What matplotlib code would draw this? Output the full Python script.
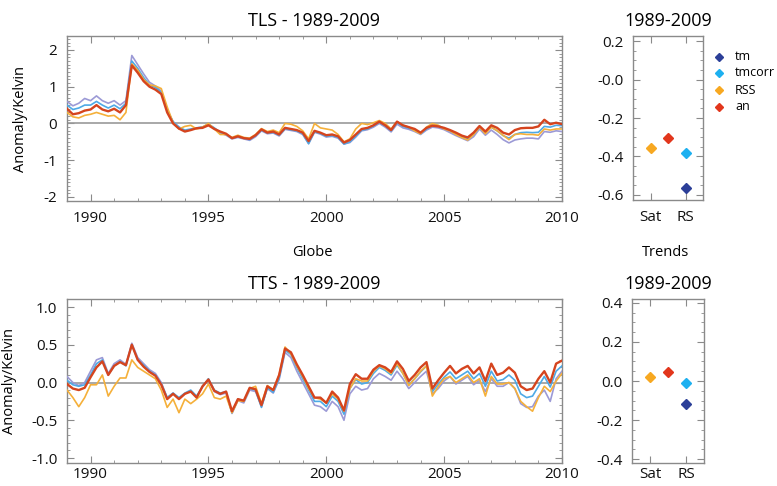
import numpy as np
import matplotlib
matplotlib.use("Agg")
import matplotlib.pyplot as plt
from matplotlib.ticker import MultipleLocator, FixedLocator, FixedFormatter

plt.rcParams['font.family'] = ['Open Sans', 'DejaVu Sans']

# ---------------- data ----------------
years = 1989 + 0.25 * np.arange(85)

tls_an = [0.40, 0.25, 0.28, 0.35, 0.38, 0.50, 0.38, 0.33, 0.40, 0.30, 0.50, 1.58,
          1.38, 1.15, 1.00, 0.92, 0.80, 0.30, 0.00, -0.14, -0.22, -0.18, -0.13, -0.12,
          -0.05, -0.15, -0.22, -0.28, -0.40, -0.35, -0.40, -0.42, -0.32, -0.16, -0.25, -0.22,
          -0.30, -0.12, -0.15, -0.18, -0.25, -0.48, -0.20, -0.25, -0.32, -0.30, -0.35, -0.52,
          -0.45, -0.30, -0.15, -0.12, -0.05, 0.05, -0.05, -0.18, 0.05, -0.05, -0.10, -0.15,
          -0.25, -0.12, -0.06, -0.08, -0.12, -0.18, -0.25, -0.33, -0.38, -0.25, -0.07, -0.22,
          -0.05, -0.12, -0.25, -0.30, -0.18, -0.13, -0.12, -0.12, -0.08, 0.10, -0.02, 0.02, -0.02]
tls_rss = [0.30, 0.18, 0.15, 0.22, 0.25, 0.30, 0.25, 0.20, 0.22, 0.10, 0.30, 1.62,
           1.45, 1.20, 1.05, 1.02, 0.95, 0.45, 0.02, -0.15, -0.08, -0.05, -0.15, -0.10,
           0.00, -0.15, -0.30, -0.30, -0.38, -0.32, -0.38, -0.40, -0.30, -0.14, -0.22, -0.18,
           -0.25, 0.00, -0.02, -0.08, -0.20, -0.42, 0.00, -0.12, -0.15, -0.18, -0.30, -0.50,
           -0.42, -0.15, 0.00, -0.03, 0.02, 0.08, 0.00, -0.15, 0.05, -0.05, -0.10, -0.20,
           -0.28, -0.10, 0.00, -0.05, -0.15, -0.20, -0.30, -0.38, -0.45, -0.30, -0.10, -0.28,
           -0.10, -0.20, -0.32, -0.44, -0.30, -0.28, -0.30, -0.30, -0.32, -0.15, -0.18, -0.15, -0.15]
tls_tmcorr = [0.50, 0.38, 0.42, 0.50, 0.50, 0.60, 0.50, 0.42, 0.50, 0.40, 0.55, 1.70,
              1.50, 1.25, 1.05, 0.98, 0.85, 0.35, 0.05, -0.10, -0.18, -0.15, -0.12, -0.10,
              -0.02, -0.12, -0.24, -0.30, -0.40, -0.36, -0.40, -0.44, -0.33, -0.18, -0.26, -0.24,
              -0.32, -0.14, -0.17, -0.20, -0.28, -0.55, -0.22, -0.27, -0.35, -0.33, -0.38, -0.56,
              -0.50, -0.35, -0.18, -0.15, -0.07, 0.03, -0.07, -0.20, 0.02, -0.08, -0.13, -0.18,
              -0.28, -0.15, -0.05, -0.06, -0.14, -0.20, -0.28, -0.35, -0.42, -0.30, -0.10, -0.25,
              -0.10, -0.20, -0.33, -0.40, -0.30, -0.25, -0.24, -0.25, -0.24, -0.08, -0.10, -0.05, -0.06]
tls_tm = [0.60, 0.48, 0.55, 0.68, 0.62, 0.75, 0.62, 0.55, 0.62, 0.50, 0.62, 1.85,
          1.60, 1.35, 1.12, 1.02, 0.88, 0.38, 0.05, -0.10, -0.20, -0.17, -0.12, -0.10,
          -0.02, -0.13, -0.26, -0.32, -0.42, -0.38, -0.42, -0.46, -0.36, -0.20, -0.28, -0.26,
          -0.34, -0.16, -0.19, -0.22, -0.30, -0.55, -0.24, -0.29, -0.37, -0.35, -0.40, -0.56,
          -0.52, -0.37, -0.20, -0.17, -0.10, 0.00, -0.10, -0.23, -0.02, -0.12, -0.16, -0.22,
          -0.30, -0.18, -0.10, -0.12, -0.17, -0.25, -0.33, -0.40, -0.47, -0.36, -0.15, -0.32,
          -0.18, -0.30, -0.44, -0.53, -0.45, -0.42, -0.40, -0.40, -0.42, -0.22, -0.24, -0.20, -0.22]

tts_an = [-0.02, -0.08, -0.10, -0.07, 0.07, 0.20, 0.28, 0.10, 0.22, 0.27, 0.23, 0.50,
          0.30, 0.21, 0.14, 0.09, -0.03, -0.22, -0.15, -0.22, -0.15, -0.12, -0.20, -0.05,
          0.04, -0.11, -0.15, -0.12, -0.38, -0.22, -0.24, -0.07, -0.09, -0.30, -0.05, -0.10,
          0.10, 0.45, 0.40, 0.24, 0.10, -0.05, -0.20, -0.20, -0.27, -0.12, -0.20, -0.37,
          -0.02, 0.11, 0.05, 0.05, 0.17, 0.23, 0.20, 0.14, 0.28, 0.18, 0.02, 0.10,
          0.20, 0.27, -0.08, 0.03, 0.13, 0.22, 0.12, 0.18, 0.22, 0.12, 0.20, 0.02,
          0.25, 0.10, 0.13, 0.20, 0.13, -0.05, -0.10, -0.08, 0.05, 0.15, 0.00, 0.25, 0.29]
tts_rss = [-0.10, -0.20, -0.32, -0.20, -0.03, -0.03, 0.10, -0.18, -0.05, 0.06, 0.06, 0.30,
           0.20, 0.15, 0.10, 0.05, -0.10, -0.33, -0.22, -0.40, -0.22, -0.28, -0.22, -0.15,
           -0.02, -0.20, -0.22, -0.18, -0.40, -0.24, -0.25, -0.08, -0.05, -0.28, -0.04, -0.10,
           0.10, 0.47, 0.38, 0.22, 0.08, -0.08, -0.20, -0.22, -0.27, -0.15, -0.22, -0.38,
           -0.08, 0.05, 0.02, 0.02, 0.15, 0.22, 0.18, 0.12, 0.25, 0.12, -0.04, 0.05,
           0.15, 0.22, -0.18, -0.05, 0.05, 0.08, 0.00, 0.05, 0.10, 0.00, 0.05, -0.18,
           0.08, -0.02, -0.02, 0.00, -0.08, -0.25, -0.32, -0.38, -0.20, -0.05, -0.12, 0.02, 0.12]
tts_tmcorr = [0.03, -0.03, -0.05, -0.03, 0.10, 0.25, 0.30, 0.10, 0.22, 0.28, 0.22, 0.50,
              0.30, 0.23, 0.15, 0.10, -0.02, -0.20, -0.14, -0.20, -0.14, -0.10, -0.18, -0.05,
              0.05, -0.10, -0.14, -0.12, -0.40, -0.22, -0.25, -0.08, -0.10, -0.33, -0.07, -0.13,
              0.06, 0.43, 0.37, 0.20, 0.05, -0.10, -0.25, -0.25, -0.32, -0.18, -0.25, -0.42,
              -0.08, 0.04, -0.02, 0.00, 0.12, 0.20, 0.16, 0.10, 0.23, 0.12, -0.03, 0.05,
              0.14, 0.22, -0.12, -0.02, 0.07, 0.14, 0.05, 0.10, 0.15, 0.05, 0.12, -0.05,
              0.15, 0.02, 0.04, 0.10, 0.03, -0.15, -0.20, -0.18, -0.05, 0.08, -0.06, 0.15, 0.22]
tts_tm = [0.08, 0.00, -0.04, 0.00, 0.15, 0.30, 0.33, 0.12, 0.25, 0.30, 0.24, 0.52,
          0.33, 0.25, 0.17, 0.12, 0.00, -0.20, -0.14, -0.21, -0.15, -0.11, -0.19, -0.06,
          0.04, -0.12, -0.16, -0.14, -0.41, -0.24, -0.27, -0.10, -0.12, -0.32, -0.08, -0.14,
          0.04, 0.40, 0.33, 0.15, 0.00, -0.15, -0.30, -0.32, -0.38, -0.25, -0.32, -0.50,
          -0.15, -0.05, -0.10, -0.08, 0.05, 0.12, 0.08, 0.03, 0.15, 0.05, -0.08, 0.00,
          0.08, 0.15, -0.15, -0.08, 0.02, 0.08, -0.02, 0.03, 0.08, -0.03, 0.03, -0.12,
          0.05, -0.05, -0.05, 0.00, -0.08, -0.28, -0.33, -0.32, -0.18, -0.10, -0.25, 0.05, 0.15]

trend_names = ['tm', 'tmcorr', 'RSS', 'an']
trend_pos = [3, 3, 1, 2]            # RS, RS, Sat, middle
tls_trends = [-0.565, -0.38, -0.355, -0.305]
tts_trends = [-0.12, -0.01, 0.02, 0.045]
trend_xticks = [1, 3]
trend_xlabels = ['Sat', 'RS']

tls_yticks = [-2, -1, 0, 1, 2]
tls_ylabels = ['-2', '-1', '0', '1', '2']
tts_yticks = [-1.0, -0.5, 0.0, 0.5, 1.0]
tts_ylabels = ['-1.0', '-0.5', '0.0', '0.5', '1.0']
tls_tr_yticks = [0.2, 0.0, -0.2, -0.4, -0.6]
tls_tr_ylabels = ['0.2', '-0.0', '-0.2', '-0.4', '-0.6']
tts_tr_yticks = [0.4, 0.2, 0.0, -0.2, -0.4]
tts_tr_ylabels = ['0.4', '0.2', '0.0', '-0.2', '-0.4']
year_ticks = [1990, 1995, 2000, 2005, 2010]
year_labels = ['1990', '1995', '2000', '2005', '2010']

line_colors = {'tm': '#9c9ad6', 'tmcorr': '#4ea9e6', 'RSS': '#f5b03a', 'an': '#d5441e'}
mark_colors = {'tm': '#2c3f98', 'tmcorr': '#1db0f0', 'RSS': '#f7a821', 'an': '#e2361c'}

# ---------------- figure ----------------
W, H = 777, 486
fig = plt.figure(figsize=(W / 100, H / 100), dpi=100)

def rect(x0, y0, x1, y1):
    return [x0 / W, 1 - y1 / H, (x1 - x0) / W, (y1 - y0) / H]

ax1 = fig.add_axes(rect(67, 36, 562, 201))
ax2 = fig.add_axes(rect(633, 36, 703, 200))
ax3 = fig.add_axes(rect(67, 299, 562, 463))
ax4 = fig.add_axes(rect(632, 299, 704, 463))

spine_col = '#8a8a8a'
tick_fs = 11
for ax in (ax1, ax2, ax3, ax4):
    for s in ax.spines.values():
        s.set_color(spine_col)
        s.set_linewidth(1.0)
    ax.tick_params(which='both', direction='in', top=True, right=True,
                   color=spine_col, labelsize=tick_fs, labelcolor='#111111')
    ax.tick_params(which='major', length=5, width=0.8, pad=7)
    ax.tick_params(which='minor', length=2.5, width=0.6)
for ax in (ax3, ax4):
    ax.tick_params(axis='x', which='major', pad=3)

def series_panel(ax, series, ylim, yticks, ylabels, minor, title, lab_x):
    for name in ['tm', 'tmcorr', 'RSS', 'an']:
        lw = 1.7 if name == 'an' else 1.2
        ax.plot(years, series[name], color=line_colors[name], lw=lw, zorder=3)
    ax.axhline(0, color='#9a9a9a', lw=1.2, zorder=2)
    ax.set_xlim(1989, 2010)
    ax.set_ylim(*ylim)
    ax.xaxis.set_major_locator(FixedLocator(year_ticks))
    ax.xaxis.set_major_formatter(FixedFormatter(year_labels))
    ax.xaxis.set_minor_locator(MultipleLocator(1))
    ax.yaxis.set_major_locator(FixedLocator(yticks))
    ax.yaxis.set_major_formatter(FixedFormatter(ylabels))
    ax.yaxis.set_minor_locator(MultipleLocator(minor))
    ax.set_title(title, fontsize=13, pad=7)
    ax.set_ylabel('Anomaly/Kelvin', fontsize=10.5)
    ax.yaxis.set_label_coords(lab_x, 0.5)

series_panel(ax1, {'tm': tls_tm, 'tmcorr': tls_tmcorr, 'RSS': tls_rss, 'an': tls_an},
             (-2.11, 2.38), tls_yticks, tls_ylabels, 0.1, 'TLS - 1989-2009', -0.079)
series_panel(ax3, {'tm': tts_tm, 'tmcorr': tts_tmcorr, 'RSS': tts_rss, 'an': tts_an},
             (-1.066, 1.106), tts_yticks, tts_ylabels, 0.1, 'TTS - 1989-2009', -0.101)

def trend_panel(ax, vals, ylim, yticks, ylabels):
    for name, xp, v in zip(trend_names, trend_pos, vals):
        ax.plot([xp], [v], marker='D', ms=5.5, color=mark_colors[name], ls='none', zorder=3)
    ax.set_xlim(0, 4)
    ax.set_ylim(*ylim)
    ax.xaxis.set_major_locator(FixedLocator(trend_xticks))
    ax.xaxis.set_major_formatter(FixedFormatter(trend_xlabels))
    ax.yaxis.set_major_locator(FixedLocator(yticks))
    ax.yaxis.set_major_formatter(FixedFormatter(ylabels))
    ax.yaxis.set_minor_locator(MultipleLocator(0.05))
    ax.set_title('1989-2009', fontsize=13, pad=7)

trend_panel(ax2, tls_trends, (-0.626, 0.226), tls_tr_yticks, tls_tr_ylabels)
trend_panel(ax4, tts_trends, (-0.42, 0.42), tts_tr_yticks, tts_tr_ylabels)

# legend (figure coordinates)
leg_y = [57, 73, 90, 107]
for name, yy in zip(trend_names, leg_y):
    fig.lines.append(plt.Line2D([719 / W], [1 - yy / H], marker='D', ms=4,
                                color=mark_colors[name], ls='none',
                                transform=fig.transFigure))
    fig.text(735 / W, 1 - yy / H, name, fontsize=9, va='center', ha='left')

fig.text(312 / W, 1 - 252 / H, 'Globe', fontsize=10.5, ha='center', va='center')
fig.text(666 / W, 1 - 252 / H, 'Trends', fontsize=10.5, ha='center', va='center')

fig.savefig('out.png', dpi=100)
